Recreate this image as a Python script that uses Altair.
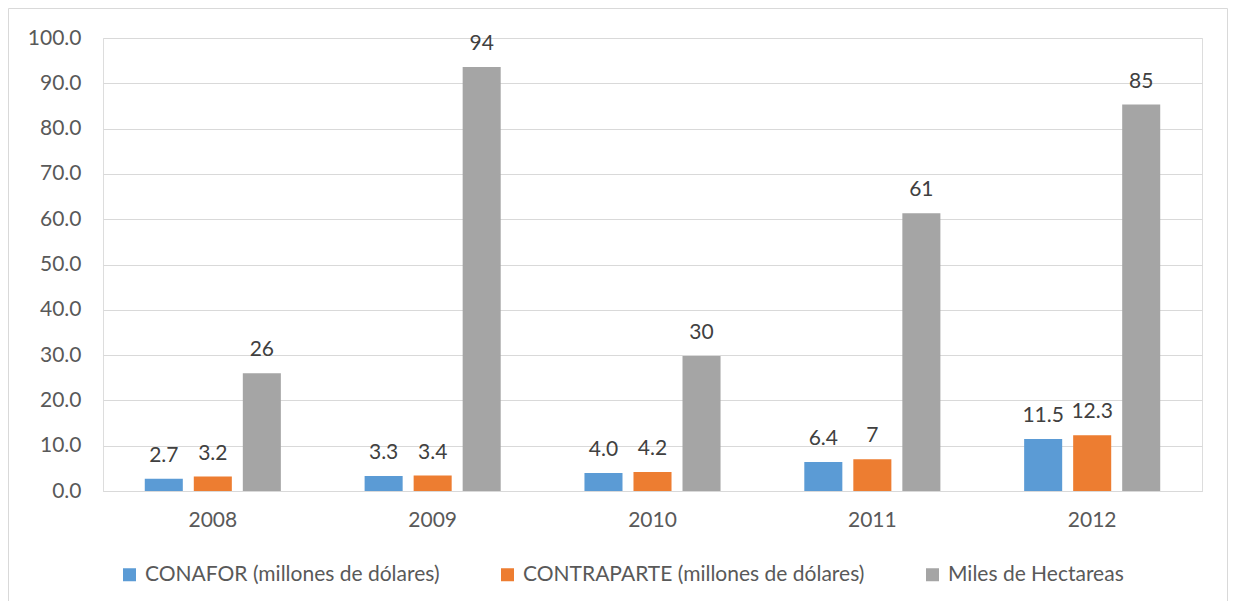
import altair as alt
import pandas as pd

years = ["2008", "2009", "2010", "2011", "2012"]
series = ["CONAFOR (millones de dólares)", "CONTRAPARTE (millones de dólares)", "Miles de Hectareas"]
conafor = [2.7, 3.3, 4.0, 6.4, 11.5]
contraparte = [3.2, 3.4, 4.2, 7.0, 12.3]
hectareas = [26.0, 93.6, 29.8, 61.3, 85.3]
conafor_labels = ["2.7", "3.3", "4.0", "6.4", "11.5"]
contraparte_labels = ["3.2", "3.4", "4.2", "7", "12.3"]
hectareas_labels = ["26", "94", "30", "61", "85"]
colors = ["#5B9BD5", "#ED7D31", "#A5A5A5"]
y_ticks = [0, 10, 20, 30, 40, 50, 60, 70, 80, 90, 100]

rows = []
for vals, labs, s in [(conafor, conafor_labels, series[0]),
                      (contraparte, contraparte_labels, series[1]),
                      (hectareas, hectareas_labels, series[2])]:
    for yr, v, l in zip(years, vals, labs):
        rows.append({"year": yr, "series": s, "value": v, "label": l})
df = pd.DataFrame(rows)

FONT = "Lato"
FS = 21
W, H = 1099, 453

x_enc = alt.X("year:N", sort=years, title=None,
              scale=alt.Scale(paddingInner=0.381, paddingOuter=0.19),
              axis=alt.Axis(labelAngle=0, ticks=False, tickSize=0, labelPadding=18,
                            domain=True, domainColor="#D9D9D9", labelFontSize=FS,
                            labelColor="#595959", labelFont=FONT))
xoff_enc = alt.XOffset("series:N", sort=series,
                       scale=alt.Scale(paddingInner=0.224, paddingOuter=0))

base = alt.Chart(df)

bars = base.mark_bar().encode(
    x=x_enc,
    xOffset=xoff_enc,
    y=alt.Y("value:Q", title=None,
            scale=alt.Scale(domain=[0, 100], nice=False),
            axis=alt.Axis(values=y_ticks, format=".1f", ticks=False, tickSize=0,
                          domain=False, labelPadding=22, gridColor="#D9D9D9",
                          labelFontSize=FS, labelColor="#595959", labelFont=FONT)),
    color=alt.Color("series:N", sort=series, title=None,
                    scale=alt.Scale(domain=series, range=colors),
                    legend=alt.Legend(orient="none", legendX=16, legendY=526,
                                      direction="horizontal", symbolType="square",
                                      symbolSize=169, symbolStrokeWidth=0,
                                      labelFontSize=FS, labelColor="#595959",
                                      labelFont=FONT, labelOffset=5, padding=0,
                                      columnPadding=57, labelLimit=600)),
)

texts = base.mark_text(baseline="alphabetic", dy=-17, fontSize=FS,
                       color="#404040", font=FONT).encode(
    x=alt.X("year:N", sort=years),
    xOffset=alt.XOffset("series:N", sort=series),
    y=alt.Y("value:Q"),
    text="label:N",
)

frame = alt.Chart(pd.DataFrame({"a": [0]})).mark_rect(
    fill=None, stroke="#D9D9D9", strokeWidth=1
).encode(
    x=alt.value(-94.5), x2=alt.value(1124.5),
    y=alt.value(-29.5), y2=alt.value(620),
)

chart = alt.layer(frame, bars, texts).properties(
    width=W, height=H,
    autosize=alt.AutoSizeParams(type="none"),
    padding={"left": 95, "top": 30, "right": 26, "bottom": 110},
).configure_view(stroke=None).configure(background="white")

chart.save("out.html", embed_options={"renderer": "svg", "actions": False})
